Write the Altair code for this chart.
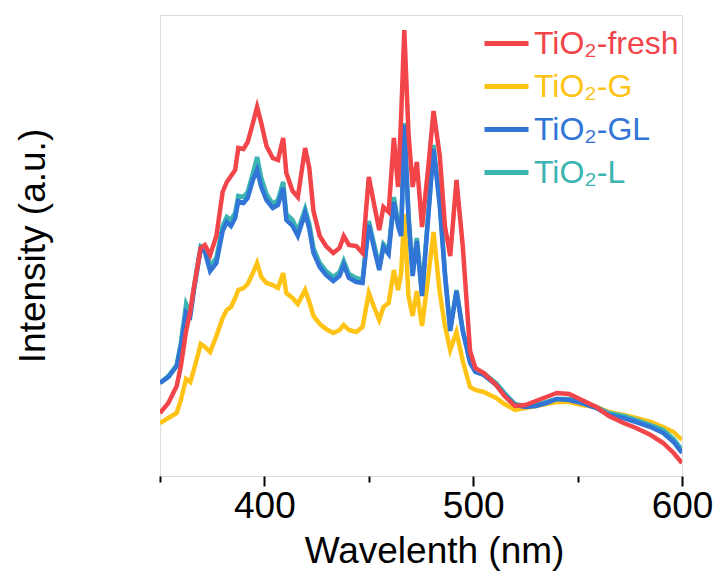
import altair as alt
import pandas as pd

wavelength = [350, 354, 358, 360, 362.5, 364.5, 366.5, 369.5, 371.5, 374, 377, 380, 382, 384, 386, 387.5,
              390, 392, 394.5, 396.5, 398.5, 401, 404, 406.5, 409, 410.5, 413.5, 416, 419.5, 421.5, 423.5,
              426.5, 429.5, 433, 436, 438, 440.5, 444, 447, 450, 452.5, 455, 457, 459.5, 462, 464, 465.5,
              467, 469, 471, 473, 475.5, 478.5, 481, 484, 486.5, 489, 492, 495, 498.5, 501, 505, 511, 515,
              520, 525, 530, 535, 540, 546, 552, 559, 565, 572, 578, 585, 591, 596, 600]

tio2_fresh = [63, 73, 90, 110, 145, 165, 192, 228, 231, 221, 240, 284, 294, 300, 306, 328,
              327, 334, 353, 369, 353, 330, 318, 316, 338, 303, 285, 279, 328, 308, 265,
              240, 230, 223, 228, 240, 231, 230, 223, 299, 272, 246, 269, 264, 338, 289, 360,
              446, 343, 289, 314, 249, 309, 365, 320, 249, 220, 296, 230, 125, 108, 103, 91, 80,
              70, 71, 75, 79, 83, 82, 76, 69, 60, 53, 48, 41, 33, 23, 13]

tio2_g = [53, 58, 63, 76, 97, 94, 108, 132, 129, 124, 140, 158, 166, 169, 178, 186,
          188, 192, 203, 213, 199, 193, 191, 188, 203, 183, 178, 172, 186, 174, 160,
          152, 147, 143, 146, 151, 146, 144, 149, 183, 169, 156, 169, 173, 206, 186, 203,
          262, 180, 160, 185, 150, 200, 244, 183, 150, 126, 144, 115, 89, 86, 84, 78, 72,
          66, 68, 70, 72, 74, 74, 71, 69, 64, 61, 58, 54, 49, 44, 36]

tio2_gl = [93, 99, 110, 130, 164, 160, 189, 227, 224, 205, 213, 245, 254, 250, 258, 275,
           273, 278, 296, 306, 289, 276, 268, 271, 288, 256, 250, 240, 263, 247, 223,
           209, 201, 195, 200, 211, 198, 194, 193, 251, 228, 206, 229, 222, 274, 250, 240,
           351, 259, 200, 235, 180, 260, 327, 270, 200, 145, 185, 145, 113, 104, 101, 91, 81,
           71, 69, 70, 73, 77, 76, 73, 68, 61, 58, 54, 49, 43, 34, 23]

tio2_l = [93, 100, 111, 133, 172, 163, 192, 230, 228, 210, 218, 250, 259, 256, 263, 280,
          279, 284, 303, 319, 298, 282, 272, 276, 294, 262, 256, 245, 267, 252, 228,
          213, 205, 199, 204, 215, 202, 198, 196, 255, 232, 209, 232, 226, 279, 254, 244,
          353, 262, 203, 238, 183, 263, 331, 273, 203, 147, 186, 146, 115, 106, 103, 93, 83,
          72, 70, 71, 74, 77, 77, 74, 69, 63, 60, 56, 51, 46, 37, 26]

series_names = ["TiO₂-fresh", "TiO₂-G", "TiO₂-GL", "TiO₂-L"]
series_colors = ["#F2454A", "#FFC316", "#3175D6", "#3CB4B2"]
series_values = [tio2_fresh, tio2_g, tio2_gl, tio2_l]

rows = []
for name, vals in zip(series_names, series_values):
    for w, v in zip(wavelength, vals):
        rows.append({"Wavelength": w, "Intensity": v, "Sample": name})
df = pd.DataFrame(rows)

FONT = "Liberation Sans"

color_scale = alt.Scale(domain=series_names, range=series_colors)

def layer_for(name):
    return alt.Chart(df).transform_filter(
        alt.datum.Sample == name
    ).mark_line(strokeWidth=4.5, clip=True).encode(
        x=alt.X("Wavelength:Q",
                scale=alt.Scale(domain=[350, 600], nice=False, zero=False),
                axis=alt.Axis(values=[350, 400, 450, 500, 550, 600],
                              labelExpr="datum.value % 100 === 0 ? datum.label : ''",
                              tickSize={"condition": {"test": "datum.value % 100 === 0", "value": 10}, "value": 6},
                              tickColor="black", tickWidth=2, domain=False, grid=False,
                              labelFontSize=37, labelFont=FONT, labelColor="black",
                              labelPadding=2, labelFlush=False,
                              title="Wavelenth (nm)", titleFontSize=37, titleFont=FONT,
                              titleFontWeight="normal", titleColor="black",
                              titleX=274, titleY=86, titleAlign="center", titleBaseline="alphabetic")),
        y=alt.Y("Intensity:Q",
                scale=alt.Scale(domain=[0, 461], nice=False, zero=False),
                axis=alt.Axis(ticks=False, labels=False, domain=False, grid=False,
                              title="Intensity (a.u.)", titleFontSize=37, titleFont=FONT,
                              titleFontWeight="normal", titleColor="black", titlePadding=108)),
        color=alt.Color("Sample:N", scale=color_scale,
                        legend=alt.Legend(title=None, orient="none", legendX=322, legendY=4,
                                          symbolType="stroke", symbolSize=1936, symbolStrokeWidth=5,
                                          labelFontSize=32, labelFont=FONT,
                                          labelColor={"expr": "scale('color', datum.value)"},
                                          labelOffset=3, rowPadding=2, padding=0)),
    )

chart = alt.layer(
    layer_for("TiO₂-G"), layer_for("TiO₂-L"), layer_for("TiO₂-GL"), layer_for("TiO₂-fresh")
).properties(
    width=522, height=461,
    autosize=alt.AutoSizeParams(type="none"),
    padding={"left": 160, "top": 15, "right": 37, "bottom": 96},
).configure_view(stroke="black", strokeWidth=2.5).configure(background="white")

chart.save("out.html", embed_options={"renderer": "svg", "actions": False})
